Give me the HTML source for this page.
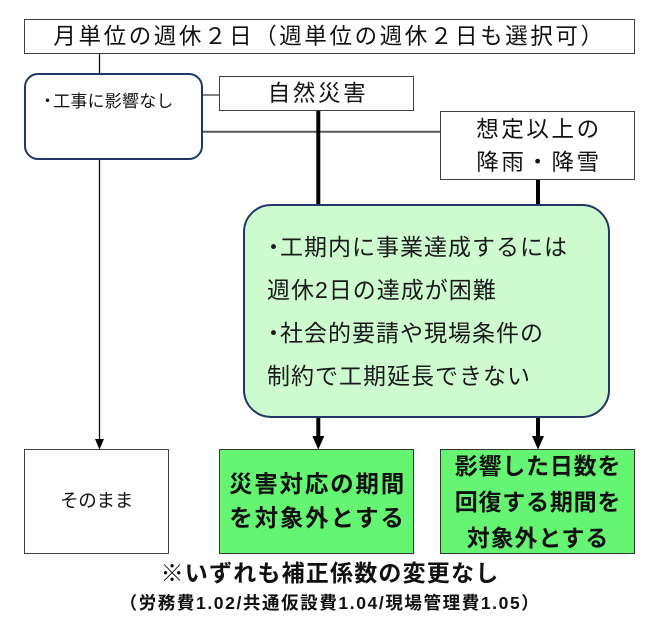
<!DOCTYPE html>
<html>
<head>
<meta charset="utf-8">
<style>
  html,body{margin:0;padding:0;background:#fff;}
  #c{position:relative;width:663px;height:630px;overflow:hidden;background:#fff;
     font-family:"Liberation Sans","Noto Sans CJK JP",sans-serif;color:#111;}
  .b{position:absolute;box-sizing:border-box;}
  .t{position:absolute;white-space:nowrap;}
  .ctr{display:flex;align-items:center;justify-content:center;text-align:center;}
</style>
</head>
<body>
<div id="c">
  <svg width="663" height="630" style="position:absolute;left:0;top:0">
    <line x1="99.5" y1="54" x2="99.5" y2="73" stroke="#111" stroke-width="1.3"/>
    <line x1="202" y1="95" x2="220" y2="95" stroke="#595959" stroke-width="1.5"/>
    <line x1="202" y1="131.7" x2="441" y2="131.7" stroke="#595959" stroke-width="2"/>
    <line x1="318.3" y1="110" x2="318.3" y2="206" stroke="#000" stroke-width="4"/>
    <line x1="538" y1="179" x2="538" y2="206" stroke="#000" stroke-width="4"/>
    <line x1="318.3" y1="416" x2="318.3" y2="438" stroke="#000" stroke-width="4"/>
    <polygon points="312.3,436 324.3,436 318.3,449.5" fill="#000"/>
    <line x1="538" y1="416" x2="538" y2="438" stroke="#000" stroke-width="4"/>
    <polygon points="532,436 544,436 538,449.5" fill="#000"/>
    <line x1="99.5" y1="158" x2="99.5" y2="441" stroke="#111" stroke-width="1.3"/>
    <polygon points="95,439 104,439 99.5,449.5" fill="#000"/>
  </svg>

  <!-- title -->
  <div class="b ctr" style="left:24px;top:19px;width:611px;height:35px;border:1.5px solid #404040;background:#fff;">
    <span style="font-size:22.5px;letter-spacing:2.6px;line-height:33px;margin-left:0px;">月単位の週休２日（週単位の週休２日も選択可）</span>
  </div>

  <!-- rounded left box -->
  <div class="b" style="left:24px;top:72.5px;width:179px;height:87px;border:2px solid #1f3864;border-radius:14px;background:#fff;"></div>
  <div class="t" style="left:39px;top:90px;font-size:17px;letter-spacing:0.2px;line-height:24px;"><span style="margin-right:-3px;">・</span>工事に影響なし</div>

  <!-- 自然災害 -->
  <div class="b ctr" style="left:219px;top:75.5px;width:195px;height:35.5px;border:1.5px solid #404040;background:#fff;">
    <span style="font-size:22.5px;letter-spacing:2.6px;line-height:33px;margin-left:3px;">自然災害</span>
  </div>

  <!-- 想定以上の降雨・降雪 -->
  <div class="b ctr" style="left:440px;top:111px;width:195px;height:69px;border:1.5px solid #404040;background:#fff;">
    <span style="font-size:22.5px;letter-spacing:2.6px;line-height:33px;margin-left:3px;">想定以上の<br>降雨・降雪</span>
  </div>

  <!-- light green box -->
  <div class="b" style="left:243px;top:204px;width:367px;height:214px;border:2px solid #1f3864;border-radius:28px;background:#cdfbcf;"></div>
  <div class="t" style="left:262px;top:226px;font-size:23px;letter-spacing:1px;line-height:43px;color:#1a1a1a;">
    <div><span style="margin-right:-6px;">・</span>工期内に事業達成するには</div>
    <div style="margin-left:5px;">週休2日の達成が困難</div>
    <div><span style="margin-right:-6px;">・</span>社会的要請や現場条件の</div>
    <div style="margin-left:5px;">制約で工期延長できない</div>
  </div>

  <!-- そのまま -->
  <div class="b ctr" style="left:24px;top:449px;width:145px;height:104.5px;border:1.5px solid #404040;background:#fff;">
    <span style="font-size:18.5px;line-height:24px;letter-spacing:-0.3px;">そのまま</span>
  </div>

  <!-- bright green 1 -->
  <div class="b ctr" style="left:219px;top:449px;width:195px;height:104.5px;border:1.5px solid #333;background:#66f572;">
    <span style="font-size:23.5px;font-weight:bold;letter-spacing:1.8px;line-height:34px;margin-left:2px;color:#111;">災害対応の期間<br>を対象外とする</span>
  </div>

  <!-- bright green 2 -->
  <div class="b ctr" style="left:440px;top:449px;width:195px;height:105px;border:1.5px solid #333;background:#66f572;">
    <span style="font-size:23px;font-weight:bold;letter-spacing:0.8px;line-height:36px;margin-left:1px;color:#111;">影響した日数を<br>回復する期間を<br>対象外とする</span>
  </div>

  <!-- notes -->
  <div class="t ctr" style="left:0;top:558px;width:663px;height:30px;">
    <span style="font-size:23px;font-weight:bold;letter-spacing:1.2px;line-height:30px;color:#111;margin-left:-3px;">※いずれも補正係数の変更なし</span>
  </div>
  <div class="t ctr" style="left:0;top:591px;width:663px;height:24px;">
    <span style="font-size:17.5px;font-weight:bold;letter-spacing:1.6px;line-height:24px;color:#111;margin-left:-3px;">（労務費1.02/共通仮設費1.04/現場管理費1.05）</span>
  </div>
</div>
</body>
</html>
